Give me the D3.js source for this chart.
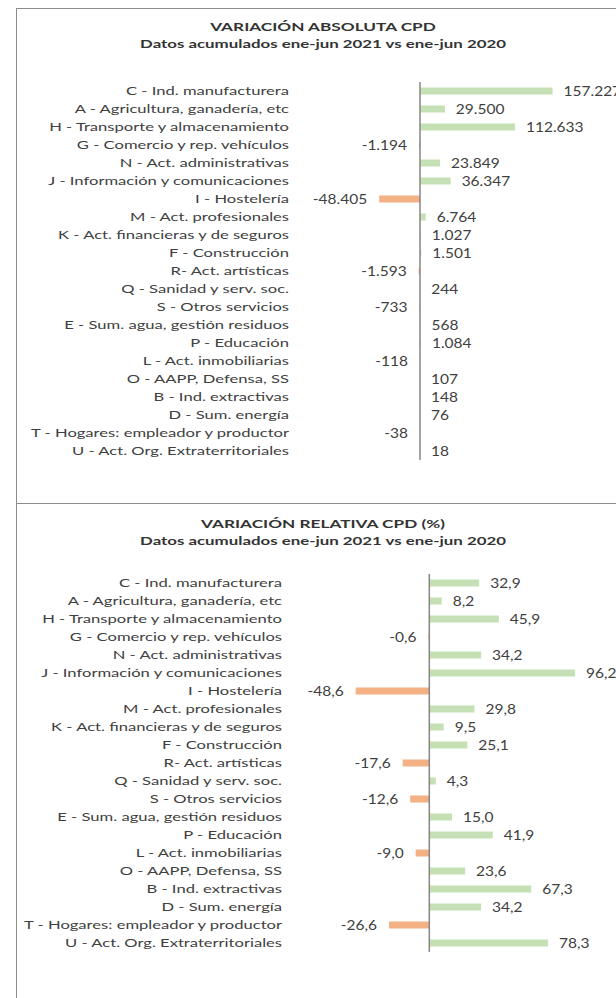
<!DOCTYPE html>
<html><head><meta charset="utf-8">
<script src="https://cdn.jsdelivr.net/npm/d3@7"></script>
<style>
html,body{margin:0;padding:0;background:#fff;}
svg{display:block;}
text{font-family:Lato,"Open Sans",sans-serif;fill:#404040;}
</style></head>
<body>
<script>
const categories = [
  "C - Ind. manufacturera",
  "A - Agricultura, ganadería, etc",
  "H - Transporte y almacenamiento",
  "G - Comercio y rep. vehículos",
  "N - Act. administrativas",
  "J - Información y comunicaciones",
  "I - Hostelería",
  "M - Act. profesionales",
  "K - Act. financieras y de seguros",
  "F - Construcción",
  "R-  Act. artísticas",
  "Q - Sanidad y serv. soc.",
  "S - Otros servicios",
  "E - Sum. agua, gestión residuos",
  "P - Educación",
  "L - Act. inmobiliarias",
  "O - AAPP, Defensa, SS",
  "B - Ind. extractivas",
  "D - Sum. energía ",
  "T - Hogares: empleador y productor",
  "U - Act. Org. Extraterritoriales"
];
const absoluteValues = [157227, 29500, 112633, -1194, 23849, 36347, -48405, 6764, 1027, 1501, -1593, 244, -733, 568, 1084, -118, 107, 148, 76, -38, 18];
const relativeValues = [32.9, 8.2, 45.9, -0.6, 34.2, 96.2, -48.6, 29.8, 9.5, 25.1, -17.6, 4.3, -12.6, 15.0, 41.9, -9.0, 23.6, 67.3, 34.2, -26.6, 78.3];
const titles = ["VARIACIÓN ABSOLUTA CPD", "VARIACIÓN RELATIVA CPD (%)"];
const subtitle = "Datos acumulados ene-jun 2021 vs ene-jun 2020";

const W = 616, H = 998;
const svg = d3.select("body").append("svg").attr("width", W).attr("height", H);

// measure natural width to derive a horizontal stretch matching the reference's look
function natWidth(str, size, weight) {
  const t = svg.append("text").attr("font-size", size).attr("font-weight", weight || "normal").text(str);
  const w = t.node().getComputedTextLength();
  t.remove();
  return w;
}
const LBL = 11.5, VAL = 12.8, TTL = 12, SUB = 11.2;
const sxLabel = 240 / natWidth(categories[2], LBL);
const sxValue = 57.6 / natWidth("112.633", VAL);
const sxTitle = 226 / natWidth(titles[0], TTL, "bold");
const sxSub = 366 / natWidth(subtitle, SUB, "bold");

const loc = d3.formatLocale({decimal: ",", thousands: ".", grouping: [3], currency: ["", "€"], minus: "-"});
const fmtAbs = loc.format(",d");
const fmtRel = loc.format(",.1f");

// frames
svg.append("rect").attr("x", 16.5).attr("y", 8.5).attr("width", 700).attr("height", 495)
  .attr("fill", "none").attr("stroke", "#8c8c8c").attr("stroke-width", 1);
svg.append("rect").attr("x", 16.5).attr("y", 503.5).attr("width", 700).attr("height", 600)
  .attr("fill", "none").attr("stroke", "#8c8c8c").attr("stroke-width", 1);

function stretchedText(g, x, y, str, anchor, size, weight, sx) {
  return g.append("text")
    .attr("transform", `translate(${x},${y}) scale(${sx},1)`)
    .attr("text-anchor", anchor)
    .attr("dominant-baseline", "central")
    .attr("font-size", size)
    .attr("font-weight", weight || "normal")
    .text(str);
}

function panel(cfg) {
  const g = svg.append("g");
  stretchedText(g, cfg.cx, cfg.titleY, cfg.title, "middle", TTL, "bold", sxTitle).style("fill", "#333");
  stretchedText(g, cfg.cx, cfg.titleY + 18, subtitle, "middle", SUB, "bold", sxSub).style("fill", "#333");

  const y = d3.scalePoint().domain(categories).range([cfg.y0, cfg.y1]).padding(0.5);
  const x = d3.scaleLinear().domain(cfg.domain).range(cfg.range);
  const bh = 7;

  g.selectAll("rect.bar").data(cfg.values).join("rect")
    .attr("class", "bar")
    .attr("x", d => x(Math.min(0, d)))
    .attr("width", d => Math.abs(x(d) - x(0)))
    .attr("y", (d, i) => y(categories[i]) - bh / 2)
    .attr("height", bh)
    .attr("fill", d => d >= 0 ? "#c5e0b4" : "#f4b183");

  // axis line
  g.append("line").attr("x1", x(0)).attr("x2", x(0)).attr("y1", cfg.y0).attr("y2", cfg.y1)
    .attr("stroke", "#868686").attr("stroke-width", 1.5);

  categories.forEach((c, i) => {
    stretchedText(g, cfg.labelX, y(c), c, "end", LBL, "normal", sxLabel);
    const v = cfg.values[i];
    if (v >= 0) stretchedText(g, x(v) + 11, y(c), cfg.fmt(v), "start", VAL, "normal", sxValue);
    else stretchedText(g, x(v) - 12, y(c), cfg.fmt(v), "end", VAL, "normal", sxValue);
  });
}

panel({
  title: titles[0], cx: 323, titleY: 26,
  y0: 82, y1: 460,
  domain: [-100000, 200000], range: [420 - 84.3, 420 + 168.6],
  values: absoluteValues, fmt: fmtAbs, labelX: 289
});
panel({
  title: titles[1], cx: 323, titleY: 523,
  y0: 574, y1: 952,
  domain: [-60, 120], range: [429.3 - 90.9, 429.3 + 181.8],
  values: relativeValues, fmt: fmtRel, labelX: 282
});
</script>
</body></html>
